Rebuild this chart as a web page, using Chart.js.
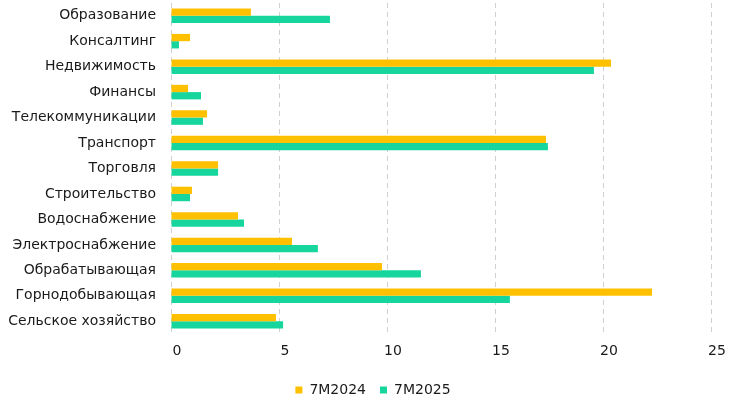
<!DOCTYPE html>
<html>
<head>
<meta charset="utf-8">
<script src="https://cdn.jsdelivr.net/npm/chart.js@4/dist/chart.umd.min.js"></script>
<style>
  html, body { margin: 0; padding: 0; background: #fff; }
  #wrap { width: 746px; height: 398px; }
</style>
</head>
<body>
<div id="wrap"><canvas id="myChart"></canvas></div>
<script>
const ctx = document.getElementById('myChart');

// отрасли, сверху вниз
const otrasli = [
  "Образование", "Консалтинг", "Недвижимость", "Финансы", "Телекоммуникации",
  "Транспорт", "Торговля", "Строительство", "Водоснабжение", "Электроснабжение",
  "Обрабатывающая", "Горнодобывающая", "Сельское хозяйство"
];
const znach2024 = [3.7, 0.88, 20.37, 0.79, 1.67, 17.36, 2.18, 0.97, 3.1, 5.6, 9.77, 22.27, 4.86];
const znach2025 = [7.36, 0.37, 19.58, 1.39, 1.48, 17.45, 2.18, 0.88, 3.38, 6.8, 11.57, 15.69, 5.19];
const xTicks = [0, 5, 10, 15, 20, 25];

Chart.defaults.font.family = "'DejaVu Sans', Verdana, sans-serif";
Chart.defaults.color = "#1a1a1a";

new Chart(ctx, {
  type: 'bar',
  data: {
    labels: otrasli,
    datasets: [
      { label: '7M2024', data: znach2024, backgroundColor: '#FFC000', barPercentage: 1, categoryPercentage: 0.57 },
      { label: '7M2025', data: znach2025, backgroundColor: '#16D69E', barPercentage: 1, categoryPercentage: 0.57 }
    ]
  },
  options: {
    indexAxis: 'y',
    responsive: true,
    maintainAspectRatio: false,
    animation: false,
    layout: { padding: { top: 3, right: 0, left: 0, bottom: -9 } },
    plugins: {
      tooltip: { enabled: false },
      legend: {
        position: 'bottom',
        labels: {
          boxWidth: 7,
          boxHeight: 7,
          padding: 14,
          font: { size: 14 },
          color: '#1a1a1a'
        }
      }
    },
    scales: {
      x: {
        min: 0,
        max: 25,
        afterBuildTicks: (axis) => { axis.ticks = xTicks.map(v => ({ value: v })); },
        grid: {
          color: '#d0d0d0',
          lineWidth: 1,
          tickLength: 0,
          drawTicks: false
        },
        border: { display: false, dash: [5, 4] },
        ticks: { font: { size: 14 }, padding: 9, labelOffset: 6, color: '#1a1a1a' },
        afterFit: (scale) => { scale.height = 35; scale.paddingLeft = 0; scale.paddingRight = 35; }
      },
      y: {
        grid: { display: false, drawTicks: false, tickLength: 0 },
        border: { display: false },
        ticks: { font: { size: 14 }, padding: 15, color: '#1a1a1a' },
        afterFit: (scale) => { scale.width = 171; scale.paddingTop = 0; scale.paddingBottom = 0; }
      }
    }
  }
});
</script>
</body>
</html>
